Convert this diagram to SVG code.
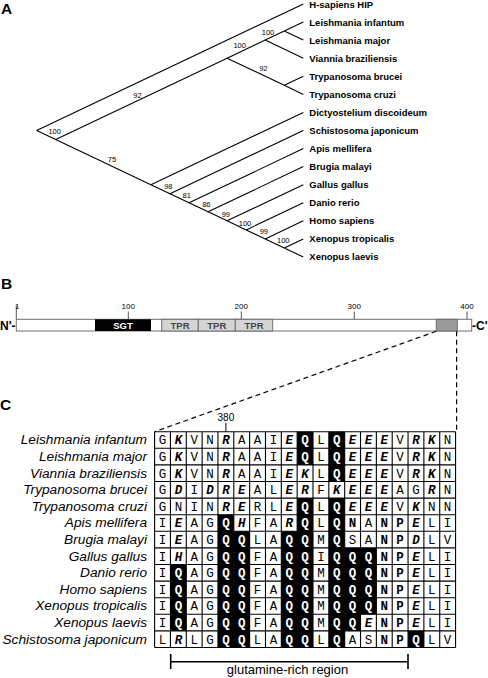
<svg xmlns="http://www.w3.org/2000/svg" width="488" height="678" viewBox="0 0 488 678">
<style>
text{font-family:"Liberation Sans",Arial,Helvetica,sans-serif;fill:#000}
.pl{font-weight:bold;font-size:15.5px}
.lf{font-weight:bold;font-size:9.5px}
.bs{font-size:7.5px;text-anchor:middle}
.br{stroke:#000;stroke-width:1.1;fill:none}
.sc{font-size:8px;text-anchor:middle}
.tk{stroke:#555;stroke-width:1}
.dm{font-weight:bold;font-size:9.5px;text-anchor:middle}
.nc{font-weight:bold;font-size:12px}
.sp{font-style:italic;font-size:13.7px;text-anchor:end}
.al{font-family:"Liberation Mono","Courier New",monospace;font-size:12.5px;text-anchor:middle}
.b{font-weight:bold;font-style:italic}
.n{font-weight:bold}
.q{font-weight:bold;fill:#fff}
.ds{stroke:#000;stroke-width:1.2;stroke-dasharray:5 3.5;fill:none}
.grid{stroke:#000;stroke-width:1.1;fill:none}
</style>

<text class="pl" x="1" y="14">A</text>
<text class="pl" x="1" y="289">B</text>
<text class="pl" x="0" y="410">C</text>

<!-- Panel A: tree -->
<g id="tree-connectors">
<path class="br" d="M36.6 130.5L303.3 4 M36.6 130.5L55.7 139.5 M55.7 139.5L227.1 58.2 M55.7 139.5L150.9 184.7 M227.1 58.2L265.2 40.1 M227.1 58.2L284.3 85.3 M265.2 40.1L284.3 31.1 M265.2 40.1L303.3 58.2 M284.3 31.1L303.3 22.1 M284.3 31.1L303.3 40.1 M284.3 85.3L303.3 76.3 M284.3 85.3L303.3 94.4 M150.9 184.7L303.3 112.4 M150.9 184.7L170 193.7 M170 193.7L303.3 130.5 M170 193.7L189.05 202.8 M189.05 202.8L303.3 148.6 M189.05 202.8L208.1 211.8 M208.1 211.8L303.3 166.6 M208.1 211.8L227.1 220.8 M227.1 220.8L303.3 184.7 M227.1 220.8L246.2 229.9 M246.2 229.9L303.3 202.8 M246.2 229.9L265.2 238.9 M265.2 238.9L303.3 220.8 M265.2 238.9L284.3 247.9 M284.3 247.9L303.3 238.9 M284.3 247.9L303.3 257"/>
</g>
<g id="leaf-hip"><text class="lf" x="309.3" y="8.2">H-sapiens HIP</text></g>
<g id="leaf-linf"><text class="lf" x="309.3" y="25.5">Leishmania infantum</text></g>
<g id="leaf-lmaj"><text class="lf" x="309.3" y="43.5">Leishmania major</text></g>
<g id="leaf-vbra"><text class="lf" x="309.3" y="61.6">Viannia braziliensis</text></g>
<g id="leaf-tbru"><text class="lf" x="309.3" y="79.7">Trypanosoma brucei</text></g>
<g id="leaf-tcru"><text class="lf" x="309.3" y="97.8">Trypanosoma cruzi</text></g>
<g id="leaf-ddis"><text class="lf" x="309.3" y="115.8">Dictyostelium discoideum</text></g>
<g id="leaf-sjap"><text class="lf" x="309.3" y="133.9">Schistosoma japonicum</text></g>
<g id="leaf-amel"><text class="lf" x="309.3" y="152">Apis mellifera</text></g>
<g id="leaf-bmal"><text class="lf" x="309.3" y="170">Brugia malayi</text></g>
<g id="leaf-ggal"><text class="lf" x="309.3" y="188.1">Gallus gallus</text></g>
<g id="leaf-drer"><text class="lf" x="309.3" y="206.2">Danio rerio</text></g>
<g id="leaf-hsap"><text class="lf" x="309.3" y="224.2">Homo sapiens</text></g>
<g id="leaf-xtro"><text class="lf" x="309.3" y="242.3">Xenopus tropicalis</text></g>
<g id="leaf-xlae"><text class="lf" x="309.3" y="260.4">Xenopus laevis</text></g>
<g id="node-A"><text class="bs" x="54.7" y="134.2">100</text></g>
<g id="node-B"><text class="bs" x="137.5" y="97.7">92</text></g>
<g id="node-E"><text class="bs" x="239.7" y="48.3">100</text></g>
<g id="node-G"><text class="bs" x="268" y="35">100</text></g>
<g id="node-F"><text class="bs" x="263.3" y="71.3">92</text></g>
<g id="node-C"><text class="bs" x="112" y="161.7">75</text></g>
<g id="node-N1"><text class="bs" x="168.3" y="189.3">98</text></g>
<g id="node-N2"><text class="bs" x="186.7" y="198.3">81</text></g>
<g id="node-N3"><text class="bs" x="206.3" y="207.3">86</text></g>
<g id="node-N4"><text class="bs" x="225.8" y="216.5">99</text></g>
<g id="node-N5"><text class="bs" x="245" y="225.6">100</text></g>
<g id="node-N6"><text class="bs" x="263.8" y="234">99</text></g>
<g id="node-N7"><text class="bs" x="283.3" y="243.3">100</text></g>

<!-- Panel B: domain bar -->
<g id="domain-bar">
<line class="tk" x1="16.3" y1="305.5" x2="16.3" y2="319.3"/>
<line class="tk" x1="128.3" y1="311.5" x2="128.3" y2="319.3"/>
<line class="tk" x1="241.3" y1="311.5" x2="241.3" y2="319.3"/>
<line class="tk" x1="354.3" y1="311.5" x2="354.3" y2="319.3"/>
<line class="tk" x1="467" y1="311.5" x2="467" y2="319.3"/>
<text class="sc" x="17.3" y="308.7">1</text>
<text class="sc" x="128.3" y="308.7">100</text>
<text class="sc" x="241.3" y="308.7">200</text>
<text class="sc" x="354.3" y="308.7">300</text>
<text class="sc" x="467" y="308.7">400</text>
<rect x="16.3" y="319.3" width="455.4" height="11.7" fill="#fff" stroke="#6e6e6e" stroke-width="1"/>
<text class="nc" x="0" y="329.6">N'-</text>
<text class="nc" x="472" y="329.6">-C'</text>
</g>
<g id="dom-sgt"><rect x="95" y="319.3" width="56" height="11.7" fill="#000"/><text class="dm" x="123" y="328.8" style="fill:#fff">SGT</text></g>
<g id="dom-tpr1"><rect x="161.7" y="319.3" width="36.6" height="11.7" fill="#d4d4d4" stroke="#6e6e6e"/><text class="dm" x="180" y="328.8" style="fill:#444">TPR</text></g>
<g id="dom-tpr2"><rect x="198.3" y="319.3" width="37" height="11.7" fill="#d4d4d4" stroke="#6e6e6e"/><text class="dm" x="216.8" y="328.8" style="fill:#444">TPR</text></g>
<g id="dom-tpr3"><rect x="235.3" y="319.3" width="37.4" height="11.7" fill="#d4d4d4" stroke="#6e6e6e"/><text class="dm" x="254" y="328.8" style="fill:#444">TPR</text></g>
<g id="dom-qrich"><rect x="436.3" y="319.3" width="21" height="11.7" fill="#9a9a9a" stroke="#6e6e6e"/></g>

<g id="zoom-connectors">
<path class="ds" d="M436.3 331.3L154.6 431.7"/>
<path class="ds" d="M456.6 331.3V431.7"/>
</g>

<!-- Panel C: alignment -->
<g id="alignment">
<text x="225.9" y="420.5" style="font-size:10px;text-anchor:middle">380</text>
<line x1="225.9" y1="423" x2="225.9" y2="431.7" stroke="#000" stroke-width="1"/>
<g fill="#000">
<rect x="297.16" y="431.7" width="15.84" height="33.2"/>
<rect x="297.16" y="498.1" width="15.84" height="149.4"/>
<rect x="328.84" y="431.7" width="15.84" height="49.8"/>
<rect x="328.84" y="498.1" width="15.84" height="149.4"/>
<rect x="217.96" y="514.7" width="15.84" height="132.8"/>
<rect x="233.8" y="531.3" width="15.84" height="116.2"/>
<rect x="281.32" y="531.3" width="15.84" height="116.2"/>
<rect x="344.68" y="547.9" width="15.84" height="83"/>
<rect x="360.52" y="547.9" width="15.84" height="66.4"/>
<rect x="170.44" y="564.5" width="15.84" height="66.4"/>
<rect x="408.04" y="630.9" width="15.84" height="16.6"/>
</g>
<path class="grid" d="M154.6 431.7V647.5M170.44 431.7V647.5M186.28 431.7V647.5M202.12 431.7V647.5M217.96 431.7V647.5M233.8 431.7V647.5M249.64 431.7V647.5M265.48 431.7V647.5M281.32 431.7V647.5M297.16 431.7V647.5M313 431.7V647.5M328.84 431.7V647.5M344.68 431.7V647.5M360.52 431.7V647.5M376.36 431.7V647.5M392.2 431.7V647.5M408.04 431.7V647.5M423.88 431.7V647.5M439.72 431.7V647.5M455.56 431.7V647.5M154.6 431.7H455.56M154.6 448.3H455.56M154.6 464.9H455.56M154.6 481.5H455.56M154.6 498.1H455.56M154.6 514.7H455.56M154.6 531.3H455.56M154.6 547.9H455.56M154.6 564.5H455.56M154.6 581.1H455.56M154.6 597.7H455.56M154.6 614.3H455.56M154.6 630.9H455.56M154.6 647.5H455.56"/>

<text class="sp" x="147" y="444.3">Leishmania infantum</text>
<text class="sp" x="147" y="460.9">Leishmania major</text>
<text class="sp" x="147" y="477.5">Viannia braziliensis</text>
<text class="sp" x="147" y="494.1">Trypanosoma brucei</text>
<text class="sp" x="147" y="510.7">Trypanosoma cruzi</text>
<text class="sp" x="147" y="527.3">Apis mellifera</text>
<text class="sp" x="147" y="543.9">Brugia malayi</text>
<text class="sp" x="147" y="560.5">Gallus gallus</text>
<text class="sp" x="147" y="577.1">Danio rerio</text>
<text class="sp" x="147" y="593.7">Homo sapiens</text>
<text class="sp" x="147" y="610.3">Xenopus tropicalis</text>
<text class="sp" x="147" y="626.9">Xenopus laevis</text>
<text class="sp" x="147" y="643.5">Schistosoma japonicum</text>

<text class="al" y="444.3"><tspan x="162.5">G</tspan><tspan x="178.4" class="b">K</tspan><tspan x="194.2">V</tspan><tspan x="210">N</tspan><tspan x="225.9" class="b">R</tspan><tspan x="241.7">A</tspan><tspan x="257.6">A</tspan><tspan x="273.4">I</tspan><tspan x="289.2" class="b">E</tspan><tspan x="305.1" class="q">Q</tspan><tspan x="320.9">L</tspan><tspan x="336.8" class="q">Q</tspan><tspan x="352.6" class="b">E</tspan><tspan x="368.4" class="b">E</tspan><tspan x="384.3" class="b">E</tspan><tspan x="400.1">V</tspan><tspan x="416" class="b">R</tspan><tspan x="431.8" class="b">K</tspan><tspan x="447.6">N</tspan></text>
<text class="al" y="460.9"><tspan x="162.5">G</tspan><tspan x="178.4" class="b">K</tspan><tspan x="194.2">V</tspan><tspan x="210">N</tspan><tspan x="225.9" class="b">R</tspan><tspan x="241.7">A</tspan><tspan x="257.6">A</tspan><tspan x="273.4">I</tspan><tspan x="289.2" class="b">E</tspan><tspan x="305.1" class="q">Q</tspan><tspan x="320.9">L</tspan><tspan x="336.8" class="q">Q</tspan><tspan x="352.6" class="b">E</tspan><tspan x="368.4" class="b">E</tspan><tspan x="384.3" class="b">E</tspan><tspan x="400.1">V</tspan><tspan x="416" class="b">R</tspan><tspan x="431.8" class="b">K</tspan><tspan x="447.6">N</tspan></text>
<text class="al" y="477.5"><tspan x="162.5">G</tspan><tspan x="178.4" class="b">K</tspan><tspan x="194.2">V</tspan><tspan x="210">N</tspan><tspan x="225.9" class="b">R</tspan><tspan x="241.7">A</tspan><tspan x="257.6">A</tspan><tspan x="273.4">I</tspan><tspan x="289.2" class="b">E</tspan><tspan x="305.1" class="b">K</tspan><tspan x="320.9">L</tspan><tspan x="336.8" class="q">Q</tspan><tspan x="352.6" class="b">E</tspan><tspan x="368.4" class="b">E</tspan><tspan x="384.3" class="b">E</tspan><tspan x="400.1">V</tspan><tspan x="416" class="b">R</tspan><tspan x="431.8" class="b">K</tspan><tspan x="447.6">N</tspan></text>
<text class="al" y="494.1"><tspan x="162.5">G</tspan><tspan x="178.4" class="b">D</tspan><tspan x="194.2">I</tspan><tspan x="210" class="b">D</tspan><tspan x="225.9" class="b">R</tspan><tspan x="241.7" class="b">E</tspan><tspan x="257.6">A</tspan><tspan x="273.4">L</tspan><tspan x="289.2" class="b">E</tspan><tspan x="305.1" class="b">R</tspan><tspan x="320.9">F</tspan><tspan x="336.8" class="b">K</tspan><tspan x="352.6" class="b">E</tspan><tspan x="368.4" class="b">E</tspan><tspan x="384.3" class="b">E</tspan><tspan x="400.1">A</tspan><tspan x="416">G</tspan><tspan x="431.8" class="b">R</tspan><tspan x="447.6">N</tspan></text>
<text class="al" y="510.7"><tspan x="162.5">G</tspan><tspan x="178.4">N</tspan><tspan x="194.2">I</tspan><tspan x="210">N</tspan><tspan x="225.9" class="b">R</tspan><tspan x="241.7" class="b">E</tspan><tspan x="257.6">R</tspan><tspan x="273.4">L</tspan><tspan x="289.2" class="b">E</tspan><tspan x="305.1" class="q">Q</tspan><tspan x="320.9">L</tspan><tspan x="336.8" class="q">Q</tspan><tspan x="352.6" class="b">E</tspan><tspan x="368.4" class="b">E</tspan><tspan x="384.3" class="b">E</tspan><tspan x="400.1">V</tspan><tspan x="416" class="b">K</tspan><tspan x="431.8">N</tspan><tspan x="447.6">N</tspan></text>
<text class="al" y="527.3"><tspan x="162.5">I</tspan><tspan x="178.4" class="b">E</tspan><tspan x="194.2">A</tspan><tspan x="210">G</tspan><tspan x="225.9" class="q">Q</tspan><tspan x="241.7" class="b">H</tspan><tspan x="257.6">F</tspan><tspan x="273.4">A</tspan><tspan x="289.2" class="b">R</tspan><tspan x="305.1" class="q">Q</tspan><tspan x="320.9">L</tspan><tspan x="336.8" class="q">Q</tspan><tspan x="352.6" class="n">N</tspan><tspan x="368.4">A</tspan><tspan x="384.3" class="n">N</tspan><tspan x="400.1" class="n">P</tspan><tspan x="416" class="b">E</tspan><tspan x="431.8">L</tspan><tspan x="447.6">I</tspan></text>
<text class="al" y="543.9"><tspan x="162.5">I</tspan><tspan x="178.4" class="b">E</tspan><tspan x="194.2">A</tspan><tspan x="210">G</tspan><tspan x="225.9" class="q">Q</tspan><tspan x="241.7" class="q">Q</tspan><tspan x="257.6">L</tspan><tspan x="273.4">A</tspan><tspan x="289.2" class="q">Q</tspan><tspan x="305.1" class="q">Q</tspan><tspan x="320.9">M</tspan><tspan x="336.8" class="q">Q</tspan><tspan x="352.6">S</tspan><tspan x="368.4">A</tspan><tspan x="384.3" class="n">N</tspan><tspan x="400.1" class="n">P</tspan><tspan x="416" class="b">D</tspan><tspan x="431.8">L</tspan><tspan x="447.6">V</tspan></text>
<text class="al" y="560.5"><tspan x="162.5">I</tspan><tspan x="178.4" class="b">H</tspan><tspan x="194.2">A</tspan><tspan x="210">G</tspan><tspan x="225.9" class="q">Q</tspan><tspan x="241.7" class="q">Q</tspan><tspan x="257.6">F</tspan><tspan x="273.4">A</tspan><tspan x="289.2" class="q">Q</tspan><tspan x="305.1" class="q">Q</tspan><tspan x="320.9">I</tspan><tspan x="336.8" class="q">Q</tspan><tspan x="352.6" class="q">Q</tspan><tspan x="368.4" class="q">Q</tspan><tspan x="384.3" class="n">N</tspan><tspan x="400.1" class="n">P</tspan><tspan x="416" class="b">E</tspan><tspan x="431.8">L</tspan><tspan x="447.6">I</tspan></text>
<text class="al" y="577.1"><tspan x="162.5">I</tspan><tspan x="178.4" class="q">Q</tspan><tspan x="194.2">A</tspan><tspan x="210">G</tspan><tspan x="225.9" class="q">Q</tspan><tspan x="241.7" class="q">Q</tspan><tspan x="257.6">F</tspan><tspan x="273.4">A</tspan><tspan x="289.2" class="q">Q</tspan><tspan x="305.1" class="q">Q</tspan><tspan x="320.9">M</tspan><tspan x="336.8" class="q">Q</tspan><tspan x="352.6" class="q">Q</tspan><tspan x="368.4" class="q">Q</tspan><tspan x="384.3" class="n">N</tspan><tspan x="400.1" class="n">P</tspan><tspan x="416" class="b">E</tspan><tspan x="431.8">L</tspan><tspan x="447.6">I</tspan></text>
<text class="al" y="593.7"><tspan x="162.5">I</tspan><tspan x="178.4" class="q">Q</tspan><tspan x="194.2">A</tspan><tspan x="210">G</tspan><tspan x="225.9" class="q">Q</tspan><tspan x="241.7" class="q">Q</tspan><tspan x="257.6">F</tspan><tspan x="273.4">A</tspan><tspan x="289.2" class="q">Q</tspan><tspan x="305.1" class="q">Q</tspan><tspan x="320.9">M</tspan><tspan x="336.8" class="q">Q</tspan><tspan x="352.6" class="q">Q</tspan><tspan x="368.4" class="q">Q</tspan><tspan x="384.3" class="n">N</tspan><tspan x="400.1" class="n">P</tspan><tspan x="416" class="b">E</tspan><tspan x="431.8">L</tspan><tspan x="447.6">I</tspan></text>
<text class="al" y="610.3"><tspan x="162.5">I</tspan><tspan x="178.4" class="q">Q</tspan><tspan x="194.2">A</tspan><tspan x="210">G</tspan><tspan x="225.9" class="q">Q</tspan><tspan x="241.7" class="q">Q</tspan><tspan x="257.6">F</tspan><tspan x="273.4">A</tspan><tspan x="289.2" class="q">Q</tspan><tspan x="305.1" class="q">Q</tspan><tspan x="320.9">M</tspan><tspan x="336.8" class="q">Q</tspan><tspan x="352.6" class="q">Q</tspan><tspan x="368.4" class="q">Q</tspan><tspan x="384.3" class="n">N</tspan><tspan x="400.1" class="n">P</tspan><tspan x="416" class="b">E</tspan><tspan x="431.8">L</tspan><tspan x="447.6">I</tspan></text>
<text class="al" y="626.9"><tspan x="162.5">I</tspan><tspan x="178.4" class="q">Q</tspan><tspan x="194.2">A</tspan><tspan x="210">G</tspan><tspan x="225.9" class="q">Q</tspan><tspan x="241.7" class="q">Q</tspan><tspan x="257.6">F</tspan><tspan x="273.4">A</tspan><tspan x="289.2" class="q">Q</tspan><tspan x="305.1" class="q">Q</tspan><tspan x="320.9">M</tspan><tspan x="336.8" class="q">Q</tspan><tspan x="352.6" class="q">Q</tspan><tspan x="368.4" class="b">E</tspan><tspan x="384.3" class="n">N</tspan><tspan x="400.1" class="n">P</tspan><tspan x="416" class="b">E</tspan><tspan x="431.8">L</tspan><tspan x="447.6">I</tspan></text>
<text class="al" y="643.5"><tspan x="162.5">L</tspan><tspan x="178.4" class="b">R</tspan><tspan x="194.2">L</tspan><tspan x="210">G</tspan><tspan x="225.9" class="q">Q</tspan><tspan x="241.7" class="q">Q</tspan><tspan x="257.6">L</tspan><tspan x="273.4">A</tspan><tspan x="289.2" class="q">Q</tspan><tspan x="305.1" class="q">Q</tspan><tspan x="320.9">L</tspan><tspan x="336.8" class="q">Q</tspan><tspan x="352.6">A</tspan><tspan x="368.4">S</tspan><tspan x="384.3" class="n">N</tspan><tspan x="400.1" class="n">P</tspan><tspan x="416" class="q">Q</tspan><tspan x="431.8">L</tspan><tspan x="447.6">V</tspan></text>
</g>

<g id="glutamine-bracket">
<path d="M170.7 661.7H408 M170.7 654V669 M408 654V669" stroke="#000" stroke-width="1.6" fill="none"/>
<text x="287.5" y="674" style="font-size:13px;text-anchor:middle">glutamine-rich region</text>
</g>
</svg>
